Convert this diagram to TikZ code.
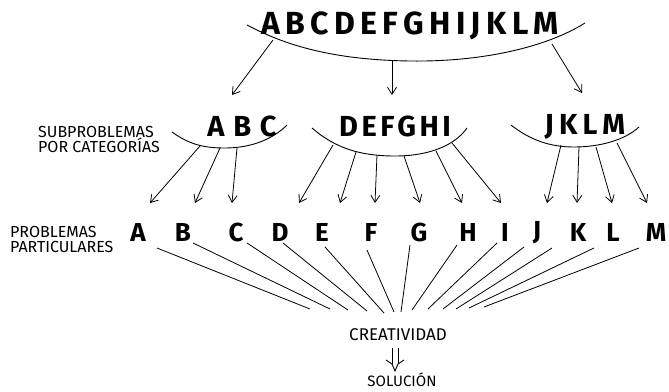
\documentclass[tikz,border=0pt]{standalone}
\usepackage{fontspec}
\setmainfont{Fira Sans}
\usetikzlibrary{arrows.meta}
\tikzset{
  big/.style={font=\fontsize{32}{32}\selectfont\bfseries\addfontfeatures{LetterSpace=17}, inner sep=0pt},
  mid/.style={inner sep=0pt},
  letter/.style={font=\fontsize{26}{26}\selectfont\bfseries, inner sep=0pt},
  lbl/.style={font=\fontsize{16}{15}\selectfont, inner sep=0pt, align=left, anchor=north west},
  arc/.style={line width=0.9pt},
  arr/.style={line width=0.8pt, -{Straight Barb[length=7pt,width=9pt,line width=0.8pt]}},
  fan/.style={line width=0.8pt},
}
\begin{document}
\begin{tikzpicture}[x=1pt,y=-1pt]
\useasboundingbox[fill=white] (0,0) rectangle (669,391);
% top
\node[big] (top) at (410,26) {ABCDEFGHIJKLM};
\draw[arc] (247,25) .. controls (290,48) and (340,60) .. (410,61) .. controls (480,62) and (545,48) .. (585,23);
\coordinate (t1) at (273,40); \coordinate (t2) at (392,61); \coordinate (t3) at (552,44);
\coordinate (e1) at (232,95); \coordinate (e2) at (392,95); \coordinate (e3) at (582,93);
\draw[arr] (t1) -- (e1);
\draw[arr] (t2) -- (e2);
\draw[arr] (t3) -- (e3);
% second row
\node[mid, font=\fontsize{29}{29}\selectfont\bfseries\addfontfeatures{LetterSpace=30}] (abc) at (242,126) {ABC};
\node[mid, font=\fontsize{29}{29}\selectfont\bfseries\addfontfeatures{LetterSpace=12}] (dgi) at (395,126) {DEFGHI};
\node[mid, font=\fontsize{29}{29}\selectfont\bfseries\addfontfeatures{LetterSpace=18}] (jkm) at (585,127) {JKLM};
\node[lbl] (sub) at (38,126) {SUBPROBLEMAS\\POR CATEGORÍAS};
\draw[arc] (172,132) .. controls (190,145) and (205,148) .. (225,148) .. controls (250,148) and (272,140) .. (287,125);
\draw[arc] (312,128) .. controls (335,148) and (360,156) .. (395,156) .. controls (430,156) and (455,145) .. (467,128);
\draw[arc] (511,125) .. controls (530,140) and (550,147) .. (574,147) .. controls (600,147) and (625,140) .. (639,127);
% arrow starts on arcs
\coordinate (sA) at (200,146); \coordinate (sB) at (220,148); \coordinate (sC) at (237,148);
\coordinate (sD) at (333,145); \coordinate (sE) at (356,152); \coordinate (sF) at (377,155);
\coordinate (sG) at (404,156); \coordinate (sH) at (436,151); \coordinate (sI) at (452,143);
\coordinate (sJ) at (561,145); \coordinate (sK) at (579,147); \coordinate (sL) at (596,147); \coordinate (sM) at (617,143);
% arrow tips
\coordinate (pA) at (150,203); \coordinate (pB) at (195,203); \coordinate (pC) at (232,203);
\coordinate (pD) at (299,203); \coordinate (pE) at (340,203); \coordinate (pF) at (375,203);
\coordinate (pG) at (420,203); \coordinate (pH) at (462,203); \coordinate (pI) at (501,203);
\coordinate (pJ) at (547,203); \coordinate (pK) at (577,203); \coordinate (pL) at (612,203); \coordinate (pM) at (647,203);
\foreach \l in {A,B,C,D,E,F,G,H,I,J,K,L,M} { \draw[arr] (s\l) -- (p\l); }
% bottom letters
\node[letter] (A) at (138,232) {A};
\node[letter] (B) at (183,232) {B};
\node[letter] (C) at (236,232) {C};
\node[letter] (D) at (280,232) {D};
\node[letter] (E) at (322,232) {E};
\node[letter] (F) at (371,232) {F};
\node[letter] (G) at (419,232) {G};
\node[letter] (H) at (468,232) {H};
\node[letter] (I) at (505,232) {I};
\node[letter] (J) at (537,233) {J};
\node[letter] (K) at (578,232) {K};
\node[letter] (L) at (613,232) {L};
\node[letter] (M) at (656,232) {M};
\node[lbl] (part) at (10,226) {PROBLEMAS\\PARTICULARES};
% fan lines
\coordinate (uA) at (157,248); \coordinate (uB) at (193,243); \coordinate (uC) at (247,243);
\coordinate (uD) at (283,243); \coordinate (uE) at (325,247); \coordinate (uF) at (367,250);
\coordinate (uG) at (410,245); \coordinate (uH) at (457,245); \coordinate (uI) at (497,243);
\coordinate (uJ) at (524,247); \coordinate (uK) at (552,248); \coordinate (uL) at (594,248); \coordinate (uM) at (639,248);
\coordinate (vA) at (310,309); \coordinate (vB) at (330,309); \coordinate (vC) at (348,310);
\coordinate (vD) at (367,311); \coordinate (vE) at (384,313); \coordinate (vF) at (394,312);
\coordinate (vG) at (401,312); \coordinate (vH) at (412,310); \coordinate (vI) at (428,309);
\coordinate (vJ) at (443,309); \coordinate (vK) at (456,309); \coordinate (vL) at (469,308); \coordinate (vM) at (484,307);
\foreach \l in {A,B,C,D,E,F,G,H,I,J,K,L,M} { \draw[fan] (u\l) -- (v\l); }
% bottom
\node[font=\fontsize{17}{17}\selectfont, inner sep=0pt] (cre) at (398,335) {CREATIVIDAD};
\node[font=\fontsize{15}{15}\selectfont, inner sep=0pt] (sol) at (402,380) {SOLUCIÓN};
\coordinate (da1) at (392,348); \coordinate (db1) at (392,364);
\coordinate (da2) at (398,348); \coordinate (db2) at (398,364);
\coordinate (hl) at (386,360); \coordinate (ht) at (395,371); \coordinate (hr) at (404,360);
\draw[line width=0.9pt] (da1) -- (db1);
\draw[line width=0.9pt] (da2) -- (db2);
\draw[line width=0.9pt, line join=miter] (hl) -- (db1) -- (ht) -- (db2) -- (hr);
\end{tikzpicture}
\end{document}
